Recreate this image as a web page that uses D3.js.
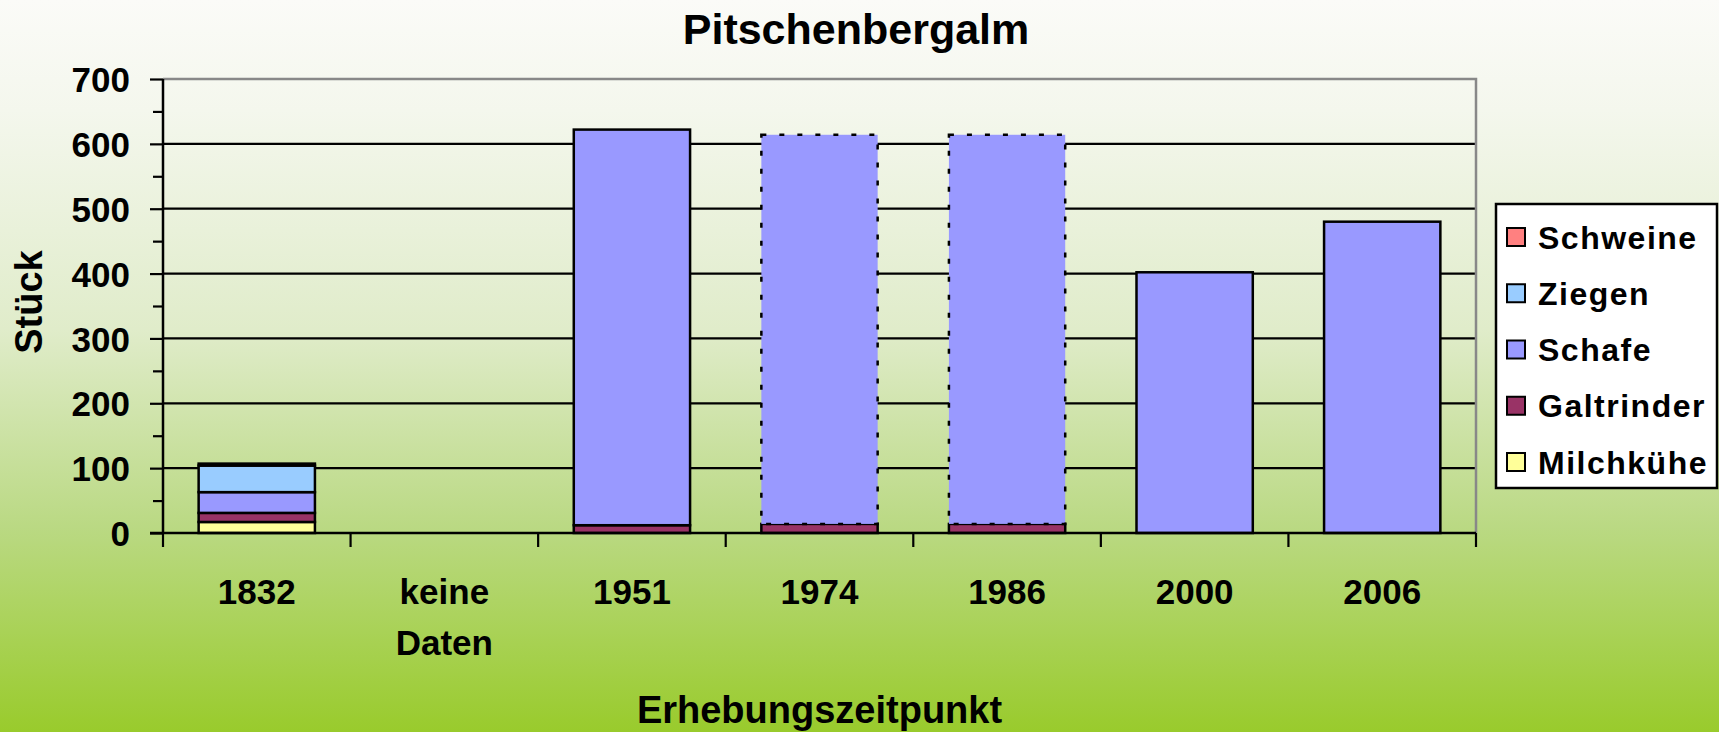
<!DOCTYPE html>
<html><head><meta charset="utf-8">
<script src="https://cdn.jsdelivr.net/npm/d3@7/dist/d3.min.js"></script>
<style>body{margin:0;padding:0;overflow:hidden}svg{display:block}text{font-family:"Liberation Sans",Arial,sans-serif;font-weight:bold;fill:#000}</style>
</head><body>
<script>
const categories = ["1832", "keine Daten", "1951", "1974", "1986", "2000", "2006"];
const seriesNames = ["Milchkühe", "Galtrinder", "Schafe", "Ziegen", "Schweine"];
const milchkuehe = [17, 0, 0, 0, 0, 0, 0];
const galtrinder = [14, 0, 12, 14, 14, 0, 0];
const schafe     = [32, 0, 610, 600, 600, 402, 480];
const ziegen     = [41, 0, 0, 0, 0, 0, 0];
const schweine   = [3, 0, 0, 0, 0, 0, 0];
const estimated  = ["1974", "1986"];
const yTicks = [0, 100, 200, 300, 400, 500, 600, 700];
const yMinorTicks = [50, 150, 250, 350, 450, 550, 650];
const colors = ["#ffff99", "#993366", "#9999ff", "#99ccff", "#ff8080"];
const legendOrder = ["Schweine", "Ziegen", "Schafe", "Galtrinder", "Milchkühe"];

(function() {
const W = 1719, H = 732;
const svg = d3.select("body").append("svg").attr("width", W).attr("height", H);
const defs = svg.append("defs");
const grad = defs.append("linearGradient").attr("id", "bg").attr("x1", 0).attr("y1", 0).attr("x2", 0).attr("y2", 1);
[[0, "#fbfbf8"], [0.15, "#f4f7ed"], [0.45, "#e0ecca"], [0.72, "#bad983"], [1, "#99cb2c"]]
  .forEach(([o, c]) => grad.append("stop").attr("offset", o).attr("stop-color", c));
svg.append("rect").attr("width", W).attr("height", H).attr("fill", "url(#bg)");

const pL = 163, pR = 1476, pT = 79, pB = 533;
const x = d3.scaleBand().domain(categories).range([pL, pR]).paddingInner(0.38).paddingOuter(0.19);
const y = d3.scaleLinear().domain([0, 700]).range([pB, pT]);
const color = d3.scaleOrdinal().domain(seriesNames).range(colors);

// gridlines
svg.append("g").selectAll("line").data(yTicks.filter(t => t > 0 && t < 700)).join("line")
  .attr("x1", pL).attr("x2", pR).attr("y1", d => y(d)).attr("y2", d => y(d))
  .attr("stroke", "#000").attr("stroke-width", 2.2);
svg.append("path").attr("d", `M${pL},${y(700)}H${pR}V${pB}`)
  .attr("fill", "none").attr("stroke", "#888").attr("stroke-width", 2.5);

const table = categories.map((c, i) => ({cat: c, "Milchkühe": milchkuehe[i], "Galtrinder": galtrinder[i],
  "Schafe": schafe[i], "Ziegen": ziegen[i], "Schweine": schweine[i]}));
const stack = d3.stack().keys(seriesNames)(table);
const gBars = svg.append("g");
stack.forEach(layer => {
  gBars.selectAll(null).data(layer.filter(d => d[1] - d[0] > 0)).join("rect")
    .attr("x", d => x(d.data.cat))
    .attr("width", x.bandwidth())
    .attr("y", d => y(d[1]))
    .attr("height", d => y(d[0]) - y(d[1]))
    .attr("fill", color(layer.key))
    .attr("stroke", "#000")
    .attr("stroke-width", 2.5)
    .attr("stroke-dasharray", d => (layer.key === "Schafe" && estimated.includes(d.data.cat)) ? "5,13" : null);
});

// y axis
const yAxis = d3.axisLeft(y).tickValues(yTicks).tickSize(13).tickPadding(20).tickFormat(d3.format("d"));
const gy = svg.append("g").attr("transform", `translate(${pL},0)`).call(yAxis);
gy.select(".domain").remove();
gy.selectAll(".tick line").attr("stroke", "#000").attr("stroke-width", 2.2);
gy.selectAll(".tick text").attr("font-size", 35).attr("dy", "0.36em")
  .style("font-family", '"Liberation Sans",Arial,sans-serif').style("font-weight", "bold");
const gyMinor = svg.append("g").attr("transform", `translate(${pL},0)`)
  .call(d3.axisLeft(y).tickValues(yMinorTicks).tickSize(10).tickFormat(""));
gyMinor.select(".domain").remove();
gyMinor.selectAll(".tick line").attr("stroke", "#000").attr("stroke-width", 2.2);
svg.append("line").attr("x1", pL).attr("x2", pL).attr("y1", pT).attr("y2", pB + 1)
  .attr("stroke", "#000").attr("stroke-width", 2.5);

// x axis
svg.append("line").attr("x1", pL - 13).attr("x2", pR).attr("y1", pB).attr("y2", pB)
  .attr("stroke", "#000").attr("stroke-width", 2.5);
const boundaries = categories.map(c => x(c) - x.step() * x.paddingInner() / 2).concat([pR]);
svg.append("g").selectAll("line").data(boundaries).join("line")
  .attr("x1", d => d).attr("x2", d => d).attr("y1", pB).attr("y2", pB + 14)
  .attr("stroke", "#000").attr("stroke-width", 2.2);
const xl = svg.append("g").selectAll("text").data(categories).join("text")
  .attr("x", d => x(d) + x.bandwidth() / 2).attr("y", 604)
  .attr("text-anchor", "middle").attr("font-size", 35);
xl.each(function(d) {
  const parts = d.split(" ");
  const t = d3.select(this);
  parts.forEach((p, i) => t.append("tspan").attr("x", x(d) + x.bandwidth() / 2).attr("dy", i === 0 ? 0 : 51).text(p));
});

// titles
svg.append("text").attr("x", 856).attr("y", 44).attr("text-anchor", "middle").attr("font-size", 43).text("Pitschenbergalm");
svg.append("text").attr("x", (pL + pR) / 2).attr("y", 723).attr("text-anchor", "middle").attr("font-size", 38).text("Erhebungszeitpunkt");
svg.append("text").attr("transform", "translate(42,302) rotate(-90)").attr("text-anchor", "middle").attr("font-size", 38).text("Stück");

// legend
const lg = svg.append("g");
lg.append("rect").attr("x", 1496).attr("y", 204).attr("width", 221).attr("height", 284)
  .attr("fill", "#fff").attr("stroke", "#000").attr("stroke-width", 2.5);
const rowY = d3.scalePoint().domain(legendOrder).range([237, 462]);
const rows = lg.selectAll("g.row").data(legendOrder).join("g").attr("class", "row");
rows.append("rect").attr("x", 1507).attr("y", d => rowY(d) - 9).attr("width", 18).attr("height", 18)
  .attr("fill", d => color(d)).attr("stroke", "#000").attr("stroke-width", 2);
rows.append("text").attr("x", 1538).attr("y", d => rowY(d)).attr("dy", "0.36em")
  .attr("font-size", 32).attr("letter-spacing", 1.5).text(d => d);
})();
</script>
</body></html>
